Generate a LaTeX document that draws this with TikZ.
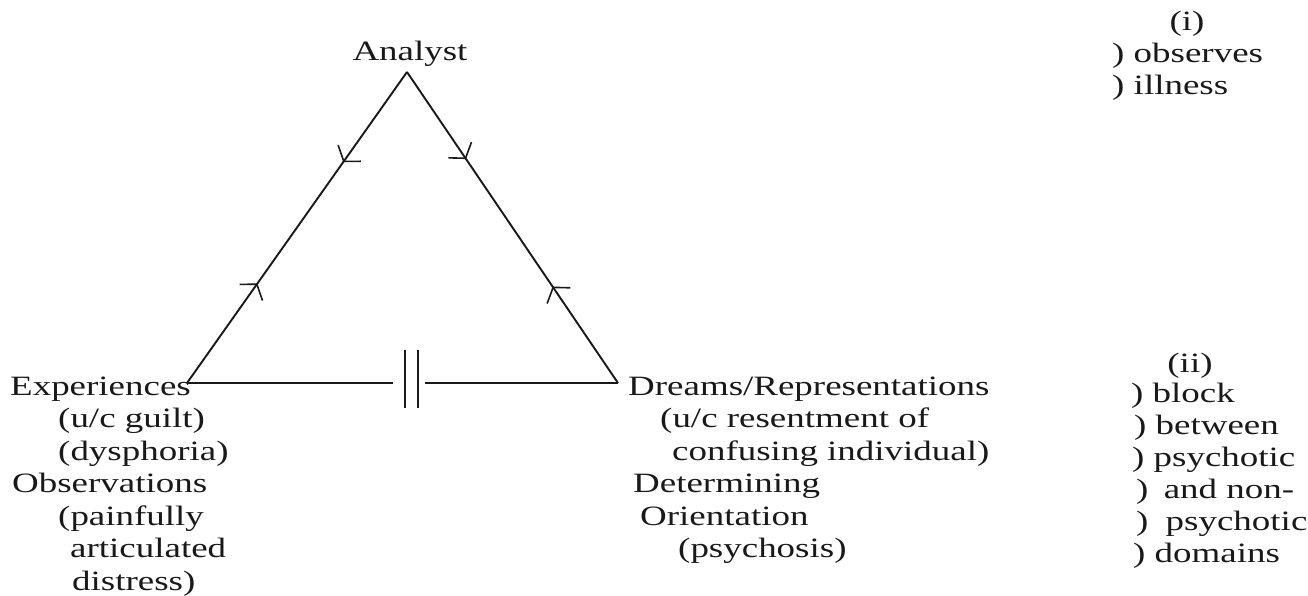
\documentclass[tikz,border=0pt]{standalone}
\usepackage{fontspec}
\setmainfont{Liberation Serif}[FakeStretch=1.32]
\usetikzlibrary{arrows.meta,decorations.markings}
\begin{document}
\begin{tikzpicture}[x=1pt,y=-1pt,
  edge/.style={line width=1.9pt, black!90},
  tip/.style={line width=1.6pt, black!90},
  twoway/.style 2 args={postaction={decorate}, decoration={markings,
      mark=at position #1 with {\arrow[tip]{Straight Barb[length=10pt,width=28pt]}},
      mark=at position #2 with {\arrowreversed[tip]{Straight Barb[length=10pt,width=28pt]}}}},
  txt/.style={anchor=base west, inner sep=0pt, text=black!90, font=\fontsize{28}{32}\selectfont},
  ctxt/.style={txt, anchor=base}
]
\useasboundingbox (0,0) rectangle (1308,596);

% corners of the triangle
\coordinate (apex) at (407,72);
\coordinate (left) at (187,383);
\coordinate (right) at (618,383);
% the broken base and its block mark
\coordinate (gapL) at (393,383);
\coordinate (gapR) at (425,383);
\coordinate (b1top) at (405,350);
\coordinate (b1bot) at (405,408);
\coordinate (b2top) at (418,350);
\coordinate (b2bot) at (418,408);

\draw[edge, twoway={0.29}{0.68}] (apex) -- (left);
\draw[edge, twoway={0.28}{0.69}] (apex) -- (right);
\draw[edge] (left) -- (gapL);
\draw[edge] (gapR) -- (right);
\draw[edge, line width=1.5pt] (b1top) -- (b1bot);
\draw[edge, line width=1.5pt] (b2top) -- (b2bot);

% vertex labels
\node[ctxt] (analyst) at (410,61) {Analyst};

\node[txt] (exp)  at (10,395)  {Experiences};
\node[txt] (uc1)  at (58,427)  {(u/c guilt)};
\node[txt] (dys)  at (58,460)  {(dysphoria)};
\node[txt] (obs)  at (12,492)  {Observations};
\node[txt] (pain) at (58,525)  {(painfully};
\node[txt] (art)  at (70,557)  {articulated};
\node[txt] (dist) at (72,590)  {distress)};

\node[txt] (dream) at (628,395) {Dreams/Representations};
\node[txt] (uc2)   at (660,427) {(u/c resentment of};
\node[txt] (conf)  at (672,460) {confusing individual)};
\node[txt] (det)   at (633,492) {Determining};
\node[txt] (ori)   at (640,525) {Orientation};
\node[txt] (psy)   at (678,557) {(psychosis)};

% side notes
\node[ctxt] (n1)   at (1187,31) {(i)};
\node[txt]  (obsv) at (1112,63) {) observes};
\node[txt]  (ill)  at (1112,95) {) illness};

\node[ctxt] (n2)   at (1190,372) {(ii)};
\node[txt]  (blk)  at (1131,402) {) block};
\node[txt]  (btw)  at (1134,434) {) between};
\node[txt]  (psc1) at (1132,466) {) psychotic};
\node[txt]  (andn) at (1136,498) {)\hspace{6pt} and non-};
\node[txt]  (psc2) at (1136,530) {)\hspace{8pt} psychotic};
\node[txt]  (dom)  at (1133,562) {) domains};
\end{tikzpicture}
\end{document}
